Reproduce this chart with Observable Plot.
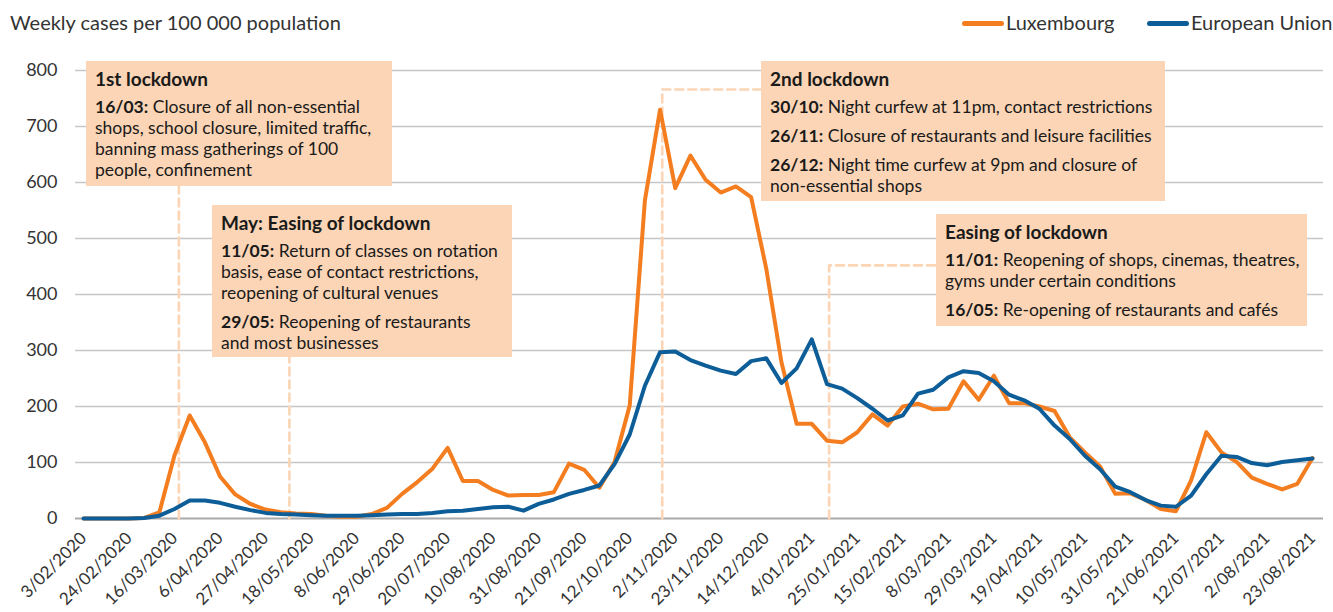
<!DOCTYPE html>
<html>
<head>
<meta charset="utf-8">
<script src="https://cdn.jsdelivr.net/npm/d3@7"></script>
<script src="https://cdn.jsdelivr.net/npm/@observablehq/plot@0.6"></script>
<style>
  html, body { margin: 0; padding: 0; background: #fff; }
  #wrap { position: relative; width: 1333px; height: 612px; font-family: Lato, "Open Sans", sans-serif; color: #333; overflow: hidden; }
  #header { position: relative; height: 40px; }
  .ttl { position: absolute; left: 10px; top: 10px; font-size: 20px; line-height: 24px; color: #333; white-space: nowrap; }
  .lg-sw { position: absolute; height: 5px; border-radius: 3px; top: 21px; width: 42px; }
  .lg-tx { position: absolute; top: 10px; font-size: 20px; line-height: 24px; color: #333; white-space: nowrap; }
  #chart { position: absolute; left: 0; top: 40px; }
  .box { position: absolute; background: #FBD5B5; box-sizing: border-box; padding: 6px 9px 0 9px; color: #1a1a1a; white-space: nowrap; z-index: 5; }
  .box .bt { font-weight: 700; font-size: 19px; line-height: 24px; }
  .box .bp { font-size: 17.5px; line-height: 21px; margin-top: 8px; }
  .box .bp.first { margin-top: 5px; }
  .box b { font-weight: 700; }
</style>
</head>
<body>
<div id="wrap">
  <div id="header"></div>
  <div id="chart"></div>
</div>
<script>
// ---------- data ----------
const weeks = [
  "2020-02-03","2020-02-10","2020-02-17","2020-02-24","2020-03-02","2020-03-09","2020-03-16","2020-03-23",
  "2020-03-30","2020-04-06","2020-04-13","2020-04-20","2020-04-27","2020-05-04","2020-05-11","2020-05-18",
  "2020-05-25","2020-06-01","2020-06-08","2020-06-15","2020-06-22","2020-06-29","2020-07-06","2020-07-13",
  "2020-07-20","2020-07-27","2020-08-03","2020-08-10","2020-08-17","2020-08-24","2020-08-31","2020-09-07",
  "2020-09-14","2020-09-21","2020-09-28","2020-10-05","2020-10-12","2020-10-19","2020-10-26","2020-11-02",
  "2020-11-09","2020-11-16","2020-11-23","2020-11-30","2020-12-07","2020-12-14","2020-12-21","2020-12-28",
  "2021-01-04","2021-01-11","2021-01-18","2021-01-25","2021-02-01","2021-02-08","2021-02-15","2021-02-22",
  "2021-03-01","2021-03-08","2021-03-15","2021-03-22","2021-03-29","2021-04-05","2021-04-12","2021-04-19",
  "2021-04-26","2021-05-03","2021-05-10","2021-05-17","2021-05-24","2021-05-31","2021-06-07","2021-06-14",
  "2021-06-21","2021-06-28","2021-07-05","2021-07-12","2021-07-19","2021-07-26","2021-08-02","2021-08-09",
  "2021-08-16","2021-08-23"
];
const luxembourg = [
  0, 0, 0, 0, 1, 11, 113, 184,
  136, 75, 43, 26, 16, 11, 9, 8,
  5, 3, 3, 8, 19, 44, 65, 89,
  126, 67, 67, 51, 41, 42, 42, 47,
  98, 87, 55, 101, 202, 568, 730, 590,
  648, 605, 582, 593, 574, 446, 279, 169,
  169, 139, 136, 154, 186, 166, 200, 205,
  195, 196, 245, 212, 255, 206, 206, 200,
  192, 145, 118, 93, 44, 45, 33, 17,
  13, 68, 154, 118, 101, 73, 62, 52,
  62, 108
];
const europeanUnion = [
  0, 0, 0, 0, 1, 5, 17, 32,
  32, 28, 21, 15, 10, 8, 7, 6,
  5, 5, 5, 6, 7, 8, 8, 10,
  13, 14, 17, 20, 21, 14, 26, 34,
  44, 51, 59, 97, 150, 237, 297, 298,
  283, 273, 264, 258, 281, 286, 242, 268,
  320, 240, 232, 215, 196, 175, 184, 223,
  230, 252, 263, 260, 245, 221, 211, 196,
  166, 142, 112, 88, 57, 47, 33, 23,
  21, 41, 79, 112, 110, 99, 95, 101,
  104, 107
];
const seriesNames = ["Luxembourg", "European Union"];
const seriesColors = ["#F47D20", "#0D5E98"];
const yTicks = [0, 100, 200, 300, 400, 500, 600, 700, 800];
const xTickLabels = [
  "3/02/2020","24/02/2020","16/03/2020","6/04/2020","27/04/2020","18/05/2020","8/06/2020",
  "29/06/2020","20/07/2020","10/08/2020","31/08/2020","21/09/2020","12/10/2020","2/11/2020",
  "23/11/2020","14/12/2020","4/01/2021","25/01/2021","15/02/2021","8/03/2021","29/03/2021",
  "19/04/2021","10/05/2021","31/05/2021","21/06/2021","12/07/2021","2/08/2021","23/08/2021"
];
const yTitle = "Weekly cases per 100 000 population";
// annotation anchor dates (where the dashed leader lines fall)
const eventDates = ["2020-03-18", "2020-05-08", "2020-10-27", "2021-01-12"];
const events = [
  { title: "1st lockdown", paras: [["16/03:", " Closure of all non-essential", "shops, school closure, limited traffic,", "banning mass gatherings of 100", "people, confinement"]] },
  { title: "May: Easing of lockdown", paras: [["11/05:", " Return of classes on rotation", "basis, ease of contact restrictions,", "reopening of cultural venues"], ["29/05:", " Reopening of restaurants", "and most businesses"]] },
  { title: "2nd lockdown", paras: [["30/10:", " Night curfew at 11pm, contact restrictions"], ["26/11:", " Closure of restaurants and leisure facilities"], ["26/12:", " Night time curfew at 9pm and closure of", "non-essential shops"]] },
  { title: "Easing of lockdown", paras: [["11/01:", " Reopening of shops, cinemas, theatres,", "gyms under certain conditions"], ["16/05:", " Re-opening of restaurants and cafés"]] }
];

// ---------- build ----------
const parseISO = d3.utcParse("%Y-%m-%d");
const parseTick = d3.utcParse("%d/%m/%Y");
const rows = [];
weeks.forEach((w, i) => {
  rows.push({ date: parseISO(w), value: luxembourg[i], series: seriesNames[0] });
  rows.push({ date: parseISO(w), value: europeanUnion[i], series: seriesNames[1] });
});
const tickDates = xTickLabels.map(parseTick);
const tickLabelByTime = new Map(tickDates.map((d, i) => [+d, xTickLabels[i]]));

// leader lines (vertical from baseline, some with a horizontal arm toward their box)
const ev = eventDates.map(parseISO);
const leaders = [
  [{ d: ev[0], v: 0 }, { d: ev[0], v: 640 }],
  [{ d: ev[1], v: 0 }, { d: ev[1], v: 320 }],
  [{ d: ev[2], v: 0 }, { d: ev[2], v: 766 }, { d: parseISO("2020-12-14"), v: 766 }],
  [{ d: ev[3], v: 0 }, { d: ev[3], v: 452 }, { d: parseISO("2021-03-08"), v: 452 }]
].flatMap((pts, k) => pts.map(p => ({ ...p, k })));

const chart = Plot.plot({
  width: 1333,
  height: 572,
  marginLeft: 75,
  marginRight: 10,
  marginTop: 30,
  marginBottom: 94,
  style: { fontFamily: "Lato, 'Open Sans', sans-serif", fontSize: "18px", color: "#333", background: "transparent" },
  x: { type: "utc", domain: [parseISO(weeks[0]), parseISO(weeks[weeks.length - 1])], insetLeft: 8, insetRight: 11 },
  y: { domain: [0, 800] },
  color: { domain: seriesNames, range: seriesColors },
  marks: [
    Plot.ruleY(yTicks.filter(v => v > 0), { stroke: "#C6C6C6", strokeWidth: 1.4 }),
    Plot.ruleY([0], { stroke: "#A9A9A9", strokeWidth: 2.2 }),
    Plot.line(leaders, { x: "d", y: "v", z: "k", stroke: "#FBD5B5", strokeWidth: 2.6, strokeDasharray: "8,5" }),
    Plot.line(rows, { x: "date", y: "value", z: "series", stroke: "series", strokeWidth: 4, strokeLinejoin: "round", strokeLinecap: "round" }),
    Plot.axisY({ ticks: yTicks, tickSize: 0, tickPadding: 18, fontSize: 18, tickFormat: d => String(d) }),
    Plot.axisX({ ticks: tickDates, tickFormat: d => tickLabelByTime.get(+d), tickRotate: -45, tickSize: 0, tickPadding: 8, dy: 9, fontSize: 17 })
  ]
});
document.getElementById("chart").appendChild(chart);

// header: title + legend
const header = document.getElementById("header");
header.innerHTML = `<div class="ttl">${yTitle}</div>`;
const legendPos = [{ sw: 962, tx: 1006 }, { sw: 1147, tx: 1191 }];
seriesNames.forEach((name, i) => {
  const sw = document.createElement("div");
  sw.className = "lg-sw";
  sw.style.left = legendPos[i].sw + "px";
  sw.style.background = seriesColors[i];
  header.appendChild(sw);
  const tx = document.createElement("div");
  tx.className = "lg-tx";
  tx.style.left = legendPos[i].tx + "px";
  tx.textContent = name;
  header.appendChild(tx);
});

// annotation boxes (layout in page pixels)
const boxLayout = [
  { left: 86, top: 61, w: 306, h: 125 },
  { left: 212, top: 205, w: 300, h: 152 },
  { left: 761, top: 61, w: 404, h: 140 },
  { left: 936, top: 214, w: 371, h: 112 }
];
const wrap = document.getElementById("wrap");
events.forEach((e, i) => {
  const b = document.createElement("div");
  b.className = "box";
  const L = boxLayout[i];
  Object.assign(b.style, { left: L.left + "px", top: L.top + "px", width: L.w + "px", height: L.h + "px" });
  let html = `<div class="bt">${e.title}</div>`;
  e.paras.forEach((p, j) => {
    const [lead, first, ...rest] = p;
    html += `<div class="bp${j === 0 ? " first" : ""}"><b>${lead}</b>${first}${rest.map(r => "<br>" + r).join("")}</div>`;
  });
  b.innerHTML = html;
  wrap.appendChild(b);
});
</script>
</body>
</html>
